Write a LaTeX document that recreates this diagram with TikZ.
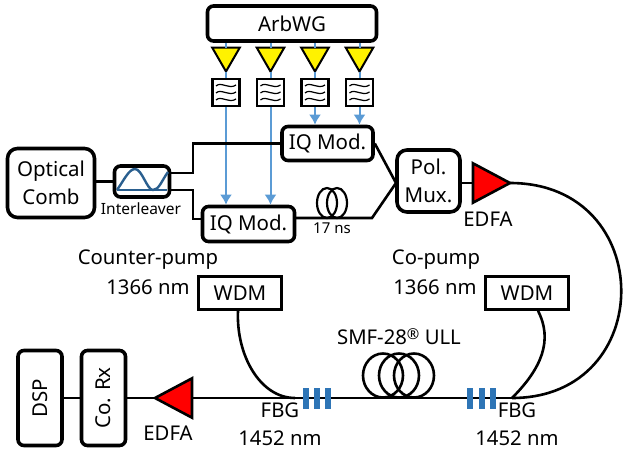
\documentclass[tikz,border=0pt]{standalone}
\usepackage{fontspec}
\setmainfont{Noto Sans}
\usetikzlibrary{shapes.geometric,arrows.meta}

\definecolor{rfblue}{HTML}{5B9BD5}
\definecolor{fbgblue}{HTML}{2E75B6}
\definecolor{ilblue}{HTML}{2A5F8F}

\tikzset{
  rbox/.style={draw, line width=3.6pt, rounded corners=6pt, align=center, inner sep=0pt, font=\fontsize{20.5}{28}\selectfont},
  wdmbox/.style={draw, line width=2.6pt, inner sep=0pt, minimum width=83pt, minimum height=33pt, font=\fontsize{20.5}{24}\selectfont},
  amp/.style={draw, line width=2pt, fill=yellow, regular polygon, regular polygon sides=3, shape border rotate=180, minimum size=32pt, inner sep=0pt, outer sep=0pt},
  edfa/.style={draw, line width=2.6pt, fill=red, isosceles triangle, isosceles triangle apex angle=56, minimum height=37pt, inner sep=0pt, outer sep=0pt, anchor=apex},
  filterbox/.style={draw, line width=2.4pt, fill=white, minimum width=27pt, minimum height=27pt, inner sep=0pt},
  fbg/.style={fill=fbgblue, minimum width=6pt, minimum height=21pt, inner sep=0pt},
  lbl/.style={inner sep=0pt, align=center, font=\fontsize{20.3}{28}\selectfont},
  fiber/.style={line width=2.6pt},
  rfline/.style={draw=rfblue, line width=2pt},
  rfarrow/.style={rfline, -{Latex[length=10pt,width=12pt]}}
}

\begin{document}
\begin{tikzpicture}[x=1pt,y=-1pt]
  \useasboundingbox (0,0) rectangle (624,453);

  \node[rbox, minimum width=169pt, minimum height=35pt] (ArbWG) at (292,23.5) {ArbWG};
  \node[rbox, minimum width=87pt, minimum height=69pt, rounded corners=10pt] (Comb) at (51,183) {Optical\\Comb};
  \node[rbox, minimum width=55pt, minimum height=31pt] (Interleaver) at (142,181.5) {};
  \node[rbox, minimum width=91pt, minimum height=34pt] (IQTop) at (327.5,143.5) {IQ Mod.};
  \node[rbox, minimum width=92pt, minimum height=35pt] (IQBot) at (248.5,224) {IQ Mod.};
  \node[rbox, minimum width=63pt, minimum height=62pt, rounded corners=10pt] (PolMux) at (428.5,181) {Pol.\\Mux.};
  \node[edfa, shape border rotate=0] (TxEDFA) at (510,183) {};
  \node[edfa, shape border rotate=180] (RxEDFA) at (155,398) {};
  \node[rbox, minimum width=44pt, minimum height=95pt] (CoRx) at (103.5,398) {\rotatebox{90}{Co. Rx}};
  \node[rbox, minimum width=44pt, minimum height=95pt] (DSP) at (40,398) {\rotatebox{90}{DSP}};
  \node[wdmbox] (WDMCounter) at (240,293) {WDM};
  \node[wdmbox] (WDMCo) at (527,293) {WDM};

  \coordinate (SpliceL) at (295,398);
  \coordinate (SpliceR) at (512,398);
  \coordinate (SplitTop) at (193,173);
  \coordinate (SplitBot) at (193,190);
  \coordinate (BotIn) at (202,219);
  \coordinate (BotOut) at (295,218);
  \coordinate (BotBend) at (372,218);
  \coordinate (MuxIn) at (396,183);

  % amplifiers and filters
  \foreach \n/\x in {a/226,b/270.5,c/315,d/359.5} {
    \node[amp] (amp\n) at (\x,55.5) {};
    \node[filterbox] (filter\n) at (\x,92.5) {};
    \draw[rfline] (amp\n |- ArbWG.south) -- (amp\n.north);
    \draw[rfline] (amp\n.south) -- (filter\n.north);
    \foreach \y in {86,93,100}
      \draw[line width=1.2pt] (\x-10,\y) .. controls (\x-5,\y-5) and (\x+3,\y+4) .. (\x+10,\y-1);
  }
  \draw[rfarrow] (filtera.south) -- (filtera |- IQBot.north);
  \draw[rfarrow] (filterb.south) -- (filterb |- IQBot.north);
  \draw[rfarrow] (filterc.south) -- (filterc |- IQTop.north);
  \draw[rfarrow] (filterd.south) -- (filterd |- IQTop.north);

  % interleaver
  \draw[ilblue, line width=1.6pt] (117,190) -- (167,190);
  \draw[ilblue, line width=2.4pt] (117,190) .. controls (124,180) and (129,169) .. (135,169)
    .. controls (142,169) and (147,190) .. (153,190) .. controls (159,190) and (162,180) .. (168,172);

  % transmitter fibers
  \draw[fiber] (Comb.east |- Interleaver.west) -- (Interleaver.west);
  \draw[fiber] (Interleaver.east |- SplitTop) -- (SplitTop) |- (IQTop.west);
  \draw[fiber] (Interleaver.east |- SplitBot) -- (SplitBot) |- (BotIn);
  \draw[fiber] (BotOut) -- (BotBend) -- (MuxIn);
  \draw[fiber] (IQTop.east) -- (MuxIn);
  \draw[fiber] (PolMux.east |- TxEDFA.lower side) -- (TxEDFA.lower side);
  \draw[line width=2.2pt] (317,203) ++(10,0) circle[x radius=10pt, y radius=15pt];
  \draw[line width=2.2pt] (327,203) ++(10,0) circle[x radius=10pt, y radius=15pt];

  % span
  \draw[fiber] (TxEDFA.apex) .. controls (658,183) and (658,398) .. (SpliceR);
  \draw[fiber] (SpliceR) -- (RxEDFA.lower side);
  \draw[fiber] (RxEDFA.apex) -- (CoRx.east);
  \draw[fiber] (CoRx.west) -- (DSP.east);
  \draw[fiber] (WDMCounter.south -| 238,0) .. controls (236,355) and (260,398) .. (SpliceL);
  \draw[fiber] (WDMCo.south -| 538,0) .. controls (553,340) and (542,368) .. (SpliceR);
  \foreach \x in {383,399,414}
    \draw[fiber] (\x,375.5) circle[x radius=20pt, y radius=22pt];
  \foreach \x in {306,317,328,470,482,493}
    \node[fbg] (fbg\x) at (\x,398) {};

  % labels
  \node[lbl, font=\fontsize{15.5}{18}\selectfont] (InterleaverLbl) at (141,209) {Interleaver};
  \node[lbl, font=\fontsize{15}{18}\selectfont] (DelayLbl) at (332,228) {17 ns};
  \node[lbl] (TxEDFALbl) at (488,219) {EDFA};
  \node[lbl] (RxEDFALbl) at (168,433) {EDFA};
  \node[lbl] (CounterLbl) at (148,260) {Counter-pump};
  \node[lbl] (CounterNm) at (148,287) {1366 nm};
  \node[lbl] (CoLbl) at (436,260) {Co-pump};
  \node[lbl] (CoNm) at (435,287) {1366 nm};
  \node[lbl] (FiberLbl) at (399,337) {SMF-28\raisebox{5pt}{\fontsize{15}{15}\selectfont ®} ULL};
  \node[lbl] (FBGLeft) at (280,410) {FBG};
  \node[lbl] (NmLeft) at (280,438) {1452 nm};
  \node[lbl] (FBGRight) at (517,410) {FBG};
  \node[lbl] (NmRight) at (517,438) {1452 nm};
\end{tikzpicture}
\end{document}
